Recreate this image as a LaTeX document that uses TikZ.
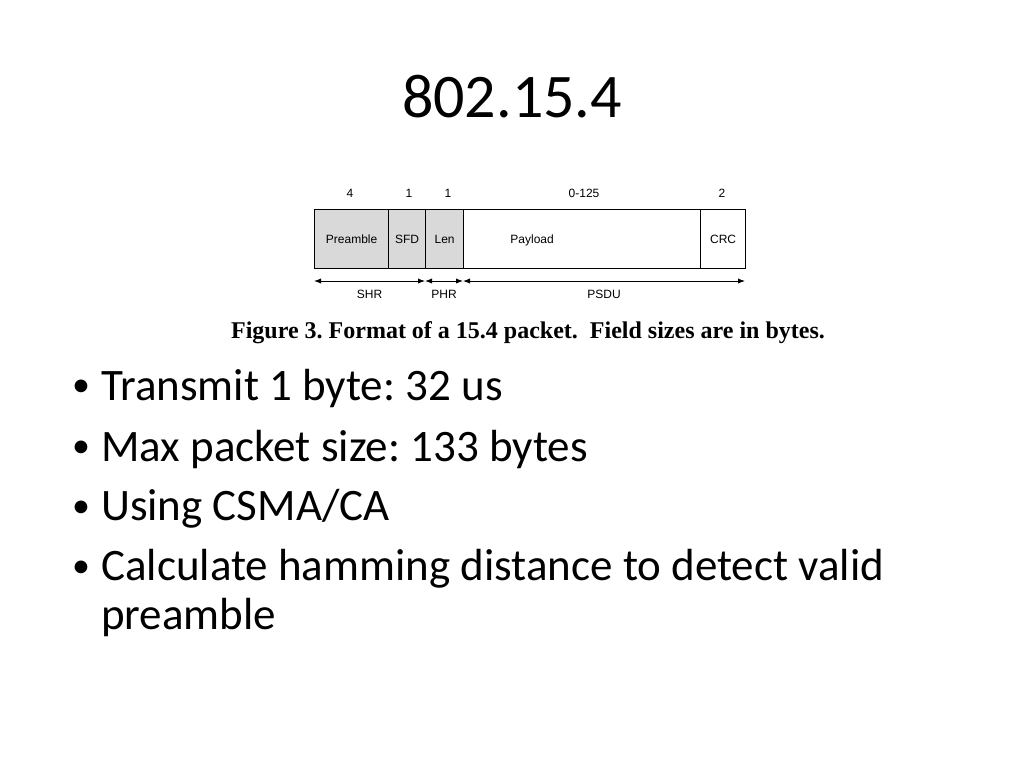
\documentclass[tikz,border=0pt]{standalone}
\usepackage{fontspec}
\setmainfont{Carlito}
\newfontfamily\figfont{Liberation Sans}
\newfontfamily\capfont{Liberation Serif}
\usetikzlibrary{arrows.meta}
\frenchspacing
\begin{document}
\begin{tikzpicture}[x=1pt,y=-1pt,
		field/.style={draw=black,line width=1.2pt,minimum height=59pt,inner sep=0pt,text height=8pt,text depth=0pt,anchor=north west,font=\figfont\fontsize{12}{14}\selectfont},
		size/.style={font=\figfont\fontsize{12}{14}\selectfont},
		span/.style={{Latex[length=7pt]}-{Latex[length=7pt]},line width=1pt},
		bullet/.style={anchor=west,font=\fontsize{45}{50}\selectfont,inner sep=0pt}]
	\useasboundingbox (0,0) rectangle (1024,768);
	
	\node[font=\fontsize{62}{70}\selectfont] (title) at (512,97) {802.15.4};
	
	% packet fields
	\node[field,fill=black!15,minimum width=74pt] (pre) at (314,209) {Preamble};
	\node[field,fill=black!15,minimum width=37pt] (sfd) at (388,209) {SFD};
	\node[field,fill=black!15,minimum width=38pt] (len) at (425,209) {Len};
	\node[field,fill=white,minimum width=237pt] (pay) at (463,209) {\hspace*{-100pt}Payload};
	\node[field,fill=white,minimum width=45pt] (crc) at (700,209) {CRC};
	
	\node[size] (n1) at (350,193) {4};
	\node[size] (n2) at (409,193) {1};
	\node[size] (n3) at (448,193) {1};
	\node[size] (n4) at (584,193) {0-125};
	\node[size] (n5) at (722,193) {2};
	
	\coordinate (a0) at (314,281);
	\coordinate (a1) at (425,281);
	\coordinate (a2) at (463,281);
	\coordinate (a3) at (745,281);
	\draw[span] (a0) -- (a1) node[size,midway,below=5pt] (shr) {SHR};
	\draw[span] (a1) -- (a2) node[size,midway,below=5pt] (phr) {PHR};
	\draw[span] (a2) -- (a3) node[size,midway,below=5pt] (psdu) {PSDU};
	
	\node[font=\capfont\bfseries\fontsize{24}{28}\selectfont] (cap) at (528,333) {Figure 3.\ Format of a 15.4 packet.\ \ Field sizes are in bytes.};
	
	% bullets
	\foreach \y/\t in {388/{Transmit 1 byte: 32 us},449/{Max packet size: 133 bytes},509/{Using CSMA/CA},569/{Calculate hamming distance to detect valid}} {
		\node[bullet] (b\y) at (101,\y) {\t};
		\node[bullet,font=\fontsize{36}{40}\selectfont] at (72,\y) {•};
	}
	\node[bullet] (b617) at (101,617) {preamble};
\end{tikzpicture}
\end{document}
